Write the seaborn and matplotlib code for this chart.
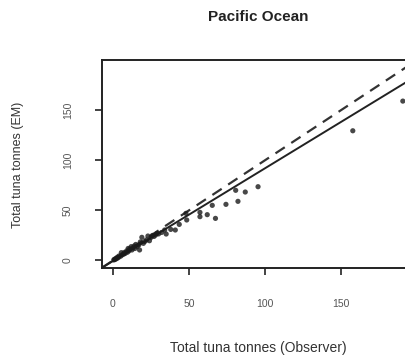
import matplotlib
matplotlib.use("Agg")
import matplotlib.pyplot as plt
import seaborn as sns
import pandas as pd

observer = [0.5, 1, 1.5, 2, 2.5, 3, 3.5, 4, 5, 5.5, 6, 7, 7.5, 8, 9, 9.5, 10, 10.5, 11, 12,
            12.5, 13, 14, 14.5, 15, 16, 17, 17.5, 18, 19, 20, 21, 22, 23, 24, 25, 26, 27, 28, 29,
            30, 32, 34, 35, 38, 41, 43.6, 48, 48.5, 57.2, 57.2, 62, 65.3, 67.4, 74.3, 80.7, 82.2,
            87, 95.4, 157.7, 190.6]
em = [0.5, 1.2, 1.0, 2.2, 2.0, 3.3, 2.8, 4.5, 4.2, 7.8, 5.5, 6.3, 8.0, 7.0, 9.5, 8.2, 12, 9.5, 11.5, 13.8,
      10.5, 12.5, 14.5, 12.0, 16.0, 14.0, 15.5, 10.5, 18.5, 23.1, 17.1, 19.0, 20.5, 24.4, 19.7, 23.0, 25.0, 24.0, 25.4, 27.0,
      26.5, 28.0, 30.4, 26.4, 31.0, 30.4, 36, 47, 40.4, 48, 43.7, 45.7, 55, 42, 56,
      70, 59, 68.3, 73.6, 129.4, 159]
fit_intercept = -0.5
fit_slope = 0.925
x_ticks = [0, 50, 100, 150]
y_ticks = [0, 50, 100, 150]

df = pd.DataFrame({"Observer": observer, "EM": em})

sns.set_style("ticks")
plt.rcParams["font.family"] = ["Liberation Sans", "DejaVu Sans"]

fig = plt.figure(figsize=(4.06, 3.55), dpi=100)
ax = fig.add_axes([102 / 406, (355 - 268) / 355, 306 / 406, 208 / 355])

sns.scatterplot(data=df, x="Observer", y="EM", ax=ax, s=14, color="#1a1a1a",
                edgecolor="none", alpha=0.8, zorder=3)
ax.axline((0, 0), slope=1, color="#333333", lw=1.6, ls=(0, (5, 3.5)), zorder=2)
ax.axline((0, fit_intercept), slope=fit_slope, color="#222222", lw=1.4, zorder=2)

ax.set_xlim(-7.2, 194)
ax.set_ylim(-7.5, 200)
ax.set_xticks(x_ticks)
ax.set_yticks(y_ticks)
ax.set_xticklabels([str(v) for v in x_ticks])
ax.set_yticklabels([str(v) for v in y_ticks], rotation=90, va="center")

for s in ["left", "bottom", "top"]:
    ax.spines[s].set_visible(True)
    ax.spines[s].set_linewidth(1.4)
    ax.spines[s].set_color("#222222")
ax.spines["right"].set_visible(False)

ax.tick_params(axis="both", length=5, width=1.2, color="#222222",
               labelsize=7.5, labelcolor="#555555")
ax.tick_params(axis="x", pad=17)
ax.tick_params(axis="y", pad=16)

ax.set_xlabel("Total tuna tonnes (Observer)", fontsize=10, color="#333333")
ax.set_ylabel("Total tuna tonnes (EM)", fontsize=9, color="#333333")
ax.xaxis.set_label_coords((258 - 102) / 306, -(348 - 268) / 208)
ax.xaxis.label.set_verticalalignment("center")
ax.yaxis.set_label_coords(-(102 - 18) / 306, (268 - 165) / 208)
ax.yaxis.label.set_verticalalignment("center")

fig.text(258 / 406, 1 - 17 / 355, "Pacific Ocean", ha="center", va="center",
         fontsize=11, fontweight="bold", color="#222222")

fig.savefig("out.png", dpi=100, facecolor="white")
